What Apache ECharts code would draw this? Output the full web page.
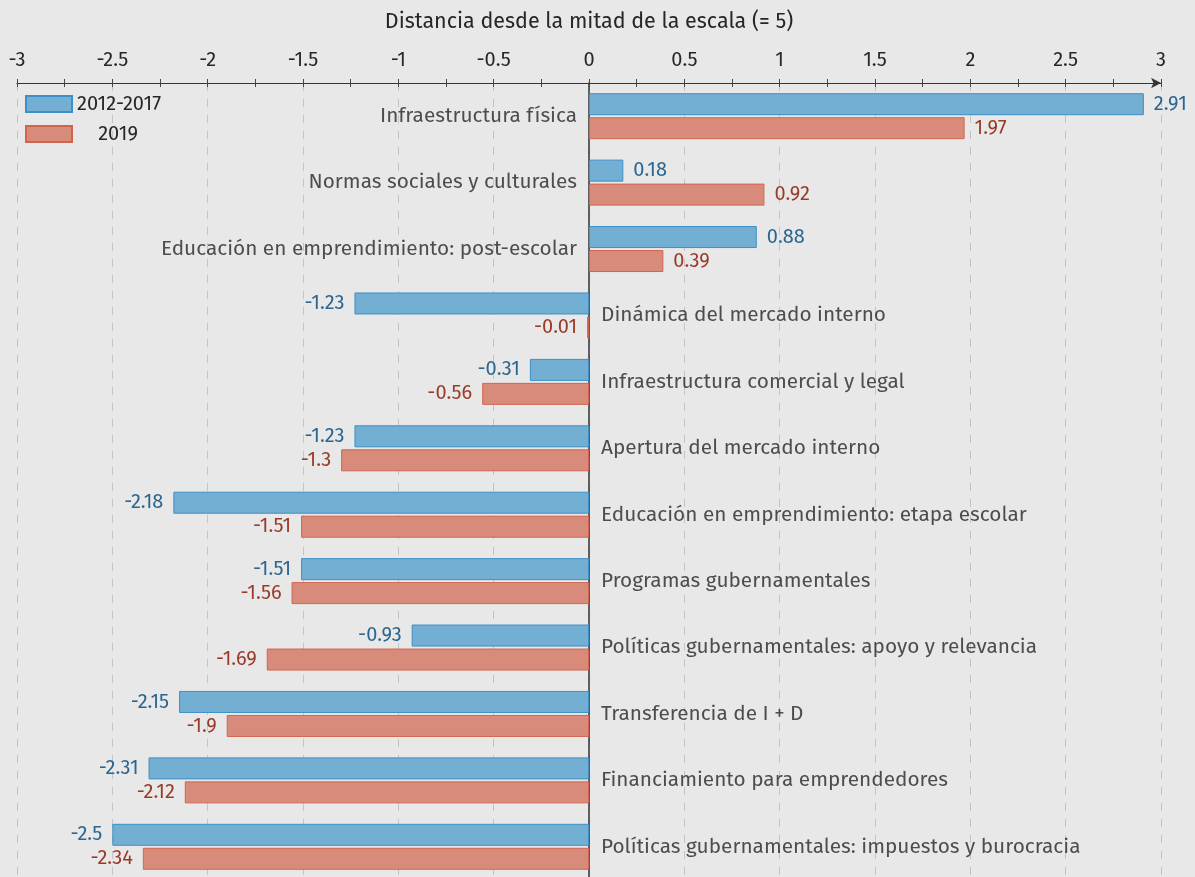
<!DOCTYPE html>
<html>
<head>
<meta charset="utf-8">
<script src="https://cdn.jsdelivr.net/npm/echarts@6/dist/echarts.min.js"></script>
<style>
html,body{margin:0;padding:0;background:#e8e8e8;}
#c{width:1195px;height:877px;}
</style>
</head>
<body>
<div id="c"></div>
<script>
const categories = ['Infraestructura física','Normas sociales y culturales','Educación en emprendimiento: post-escolar','Dinámica del mercado interno','Infraestructura comercial y legal','Apertura del mercado interno','Educación en emprendimiento: etapa escolar','Programas gubernamentales','Políticas gubernamentales: apoyo y relevancia','Transferencia de I + D','Financiamiento para emprendedores','Políticas gubernamentales: impuestos y burocracia'];
const values2012 = [2.91,0.18,0.88,-1.23,-0.31,-1.23,-2.18,-1.51,-0.93,-2.15,-2.31,-2.5];
const values2019 = [1.97,0.92,0.39,-0.01,-0.56,-1.3,-1.51,-1.56,-1.69,-1.9,-2.12,-2.34];
const seriesNames = ['2012-2017','2019'];

const FONT = 'Fira Sans, Noto Sans, sans-serif';
const chart = echarts.init(document.getElementById('c'));

function barData(vals){
  return vals.map(v => ({
    value: v,
    label: {position: v < 0 ? 'left' : 'right'}
  }));
}

const tickStyle = {color: '#444', width: 1};

chart.setOption({
  backgroundColor: '#e8e8e8',
  animation: false,
  textStyle: {fontFamily: FONT},
  grid: {left: 17, right: 34, top: 83, height: 797, outerBoundsMode: 'none', containLabel: false},
  legend: {
    data: seriesNames,
    orient: 'vertical',
    left: 20, top: 89,
    itemWidth: 46, itemHeight: 16, itemGap: 10,
    icon: 'rect',
    formatter: n => n === '2019' ? '    ' + n : n,
    textStyle: {fontSize: 20, color: '#262626', fontFamily: FONT}
  },
  xAxis: [{
    type: 'value', position: 'top',
    min: -3, max: 3, interval: 0.5,
    name: 'Distancia desde la mitad de la escala (= 5)',
    nameLocation: 'middle', nameGap: 50,
    nameTextStyle: {fontSize: 21.5, color: '#262626', fontFamily: FONT},
    axisLine: {show: true, lineStyle: {color: '#333', width: 1.2}, symbol: ['none','arrow'], symbolSize: [8, 10]},
    axisTick: {show: true, inside: true, length: 4, lineStyle: tickStyle},
    minorTick: {show: true, splitNumber: 2, length: 4, lineStyle: tickStyle},
    axisLabel: {fontSize: 20, color: '#262626', margin: 13, fontFamily: FONT},
    splitLine: {show: true, lineStyle: {color: '#c4c4c4', type: [8, 8], width: 1}}
  }, {
    type: 'value', position: 'top', offset: 0,
    min: -3, max: 3, interval: 0.5,
    axisLine: {show: false},
    axisTick: {show: true, inside: false, length: 4, lineStyle: tickStyle},
    minorTick: {show: true, splitNumber: 2, length: 4, lineStyle: tickStyle},
    axisLabel: {show: false},
    splitLine: {show: false}
  }],
  yAxis: {
    type: 'category', inverse: true, data: categories,
    axisLine: {show: true, onZero: true, lineStyle: {color: '#333', width: 1.5}},
    axisTick: {show: false},
    axisLabel: {show: false},
    splitLine: {show: false}
  },
  series: [
    {
      name: seriesNames[0], type: 'bar', barWidth: 22, barGap: '9%',
      data: barData(values2012),
      itemStyle: {color: '#73afd3', borderColor: '#3d8fc6', borderWidth: 1},
      label: {show: true, distance: 10, fontSize: 20, color: '#2b6690', fontFamily: FONT}
    },
    {
      name: seriesNames[1], type: 'bar', barWidth: 22, barGap: '9%',
      data: barData(values2019),
      itemStyle: {color: '#d98b7b', borderColor: '#d0654f', borderWidth: 1},
      label: {show: true, distance: 10, fontSize: 20, color: '#9a3a28', fontFamily: FONT}
    },
    {
      type: 'scatter', symbolSize: 0, silent: true,
      data: categories.map((c, i) => ({
        value: [0, c],
        label: {show: true, formatter: c, position: values2012[i] > 0 ? 'left' : 'right', distance: 12}
      })),
      label: {fontSize: 20.8, color: '#262626', fontFamily: FONT},
      z: 5
    }
  ]
});
</script>
</body>
</html>
